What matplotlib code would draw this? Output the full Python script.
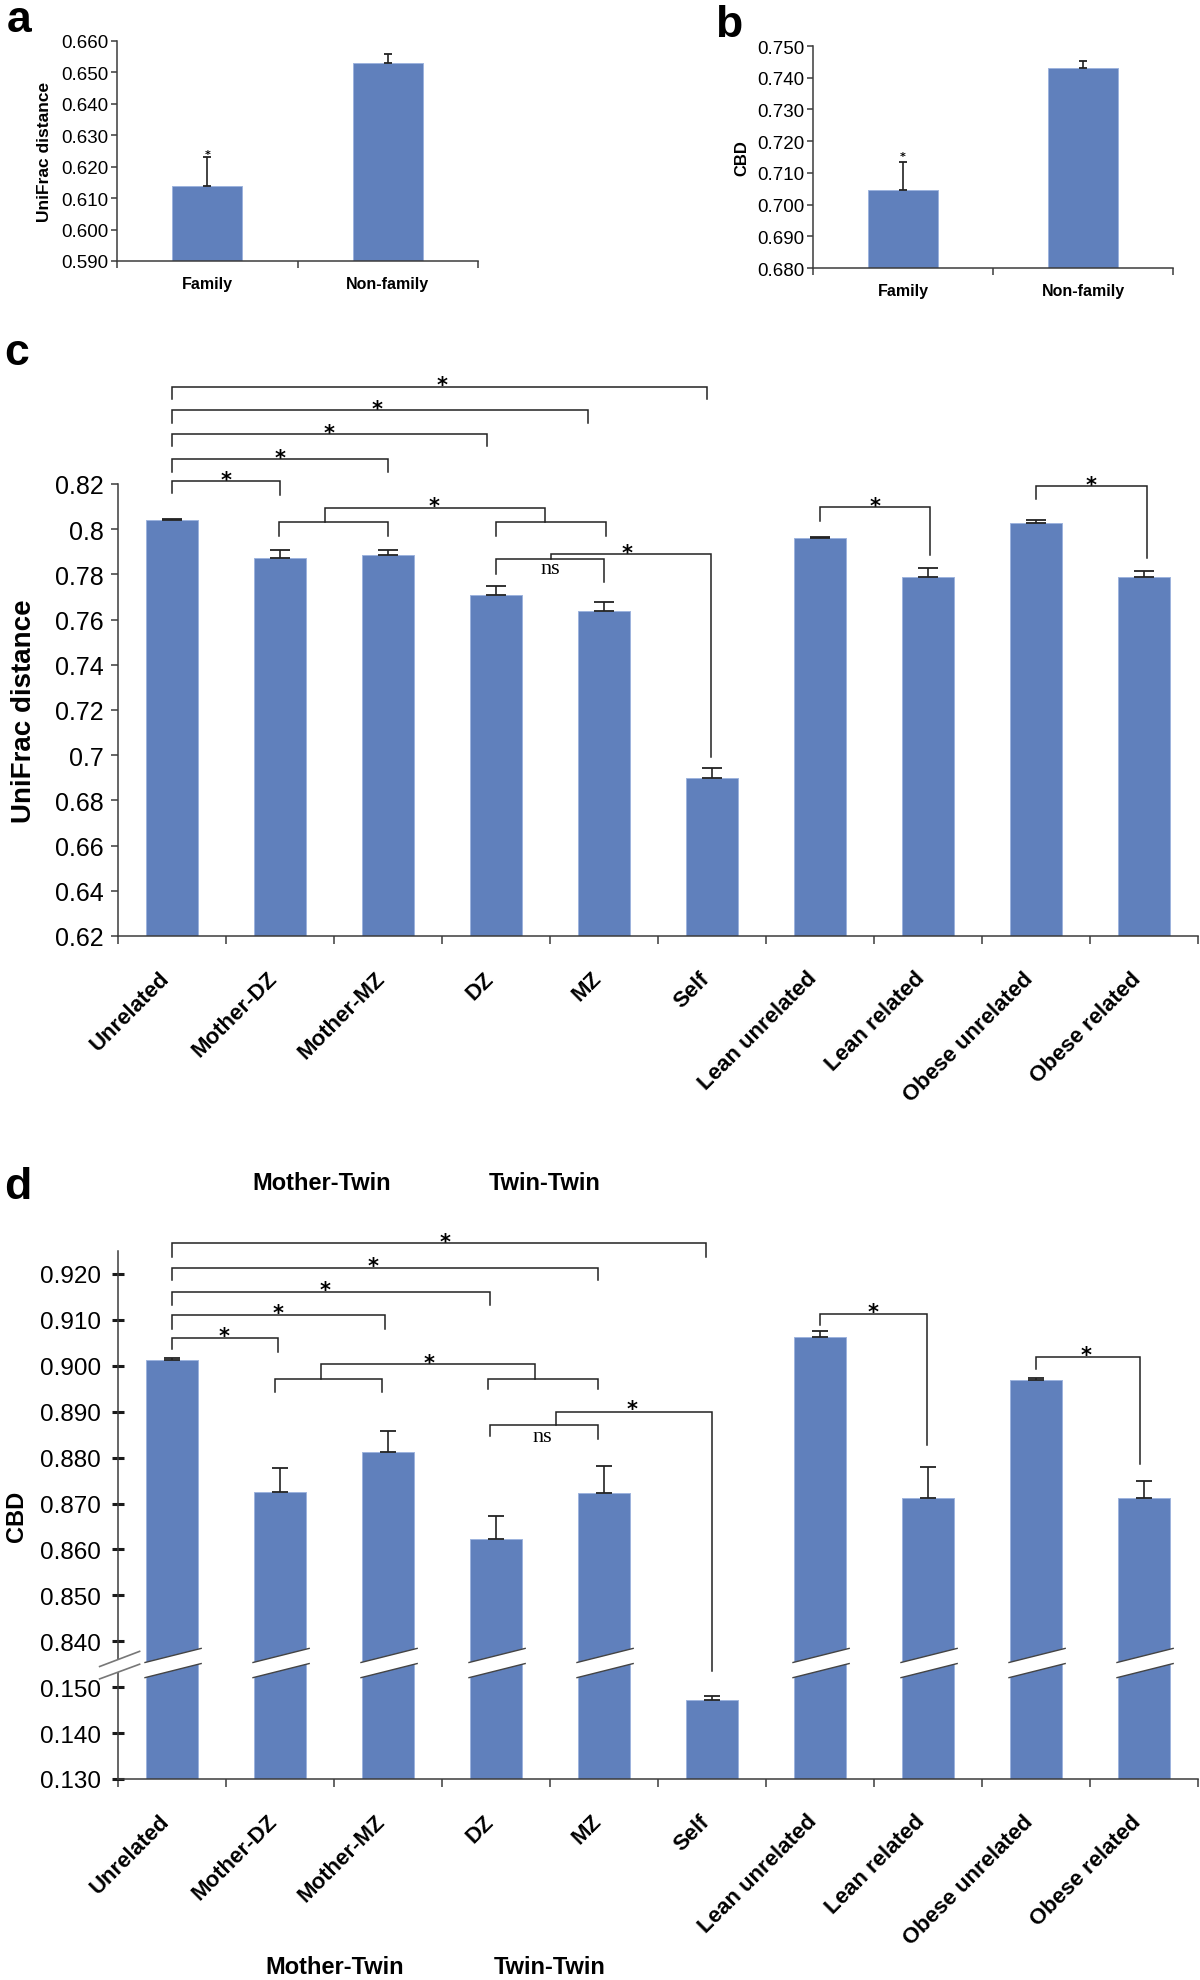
import numpy as np
import matplotlib
matplotlib.use('Agg')
import matplotlib.pyplot as plt
from matplotlib.patches import Polygon
from matplotlib.transforms import offset_copy, ScaledTranslation

plt.rcParams['font.family'] = ['Liberation Sans', 'DejaVu Sans']

W, H = 1200, 1981
BLUE = '#6080BC'
EDGE = '#9DB3DD'
INK = '#222222'
AXC = '#3c3c3c'

#==============================================================================
# data
ab_cats = ['Family', 'Non-family']
a_vals = [0.614, 0.653]
a_err = [0.009, 0.003]
b_vals = [0.7045, 0.7432]
b_err = [0.009, 0.0022]

cd_cats = ['Unrelated', 'Mother-DZ', 'Mother-MZ', 'DZ', 'MZ', 'Self',
           'Lean unrelated', 'Lean related', 'Obese unrelated', 'Obese related']
c_vals = [0.804, 0.7874, 0.7887, 0.7710, 0.7638, 0.690, 0.796, 0.7789, 0.8026, 0.7789]
c_err = [0.0006, 0.0034, 0.0020, 0.0039, 0.0040, 0.0045, 0.0006, 0.0041, 0.0013, 0.0028]
d_vals = [0.9013, 0.8726, 0.8813, 0.8622, 0.8723, 0.1471, 0.9063, 0.8713, 0.8968, 0.8713]
d_err = [0.0003, 0.0052, 0.0044, 0.0050, 0.0059, 0.0009, 0.0012, 0.0066, 0.0006, 0.0037]

d_upper_ticks = [0.840, 0.850, 0.860, 0.870, 0.880, 0.890, 0.900, 0.910, 0.920]
d_lower_ticks = [0.130, 0.140, 0.150]
BREAK_SHIFT = 0.68   # lower segment is drawn shifted up under the break

# significance brackets: (x1, x2, y_bar, y_leg1, y_leg2)
c_brackets = [(0, 1.0, 0.8215, 0.816, 0.8153), (0, 2.0, 0.831, 0.8254, 0.8254),
              (0, 2.92, 0.842, 0.8366, 0.8366), (0, 3.85, 0.8528, 0.8472, 0.8472),
              (0, 4.95, 0.8631, 0.8578, 0.8578),
              (0.99, 2.0, 0.8031, 0.797, 0.797), (3.0, 4.02, 0.8031, 0.797, 0.797),
              (1.42, 3.45, 0.8094, 0.8031, 0.8031),
              (3.0, 4.0, 0.7866, 0.7803, 0.7766), (3.51, 4.99, 0.7891, 0.7866, 0.699),
              (6.0, 7.02, 0.8097, 0.8038, 0.7887), (8.0, 9.03, 0.8193, 0.8134, 0.7872)]
c_stars = [(0.5, 0.8244), (1.0, 0.8343), (1.45, 0.845), (1.9, 0.8557), (2.5, 0.8663),
           (2.43, 0.8127), (4.21, 0.792), (6.51, 0.8131), (8.51, 0.8222)]
c_ns = (3.5, 0.7825)

d_brackets = [(0, 0.98, 0.9061, 0.9036, 0.903), (0, 1.97, 0.911, 0.9081, 0.9081),
              (0, 2.94, 0.916, 0.9133, 0.9133), (0, 3.94, 0.9214, 0.9186, 0.9186),
              (0, 4.94, 0.9267, 0.9238, 0.9238),
              (0.95, 1.94, 0.8971, 0.8943, 0.8943), (2.93, 3.94, 0.8971, 0.8949, 0.8949),
              (1.38, 3.36, 0.9003, 0.8971, 0.8971),
              (2.94, 3.94, 0.8871, 0.8846, 0.884), (3.56, 5.0, 0.890, 0.8871, 0.1535),
              (6.0, 6.99, 0.9113, 0.9088, 0.8828), (8.0, 8.96, 0.9019, 0.8992, 0.8786)]
d_stars = [(0.48, 0.9079), (0.98, 0.9128), (1.42, 0.9178), (1.86, 0.923), (2.53, 0.9282),
           (2.38, 0.902), (4.26, 0.8919), (6.49, 0.913), (8.46, 0.9036)]
d_ns = (3.43, 0.8847)
#==============================================================================


def dpos(v):
    v = np.asarray(v, dtype=float)
    return np.where(v < 0.5, v + BREAK_SHIFT, v)


fig = plt.figure(figsize=(W / 100, H / 100), dpi=100)


def add_axes_px(l, r, t, b):
    return fig.add_axes([l / W, 1 - b / H, (r - l) / W, (b - t) / H])


def base_style(ax, n):
    ax.spines['top'].set_visible(False)
    ax.spines['right'].set_visible(False)
    for s in ('left', 'bottom'):
        ax.spines[s].set_color(AXC)
        ax.spines[s].set_linewidth(1.1)
    ax.set_xlim(-0.5, n - 0.5)
    ax.set_xticks(np.arange(-0.5, n, 1.0))
    ax.set_xticklabels([])
    ax.tick_params(axis='x', which='major', direction='out', length=5, width=1.1, color=AXC)


def draw_bars(ax, x, tops, bottom, err, width, capsize):
    tops = np.asarray(tops)
    ax.bar(x, tops - bottom, width=width, bottom=bottom, color=BLUE,
           edgecolor=EDGE, linewidth=0.7, zorder=2)
    ax.errorbar(x, tops, yerr=[np.zeros(len(err)), err], fmt='none', ecolor=INK,
                elinewidth=1.2, capsize=capsize, capthick=1.3, zorder=4)


def bracket(ax, x1, x2, y, y1, y2):
    ax.plot([x1, x1, x2, x2], [y1, y, y, y2], color=INK, lw=1.1, clip_on=False,
            solid_joinstyle='miter', zorder=5)


def star(ax, x, y, size=15, dy=-6):
    tr = offset_copy(ax.transData, fig=fig, x=0, y=dy, units='dots')
    ax.text(x, y, '*', transform=tr, ha='center', va='center', fontsize=size,
            fontweight='bold', family='DejaVu Sans', color='black', clip_on=False)


def cat_labels(ax, cats, size, pad, dx, rot=0):
    ax.set_xticks(np.arange(len(cats)), minor=True)
    ax.set_xticklabels(cats, minor=True, fontsize=size, fontweight='bold')
    ax.tick_params(axis='x', which='minor', length=0, pad=pad)
    if rot:
        for lab in ax.get_xticklabels(minor=True):
            lab.set_rotation(rot)
            lab.set_ha('right')
            lab.set_va('center')
            lab.set_rotation_mode('anchor')
            lab.set_transform(lab.get_transform() + ScaledTranslation(dx / 100, 0, fig.dpi_scale_trans))


# ---------------- panel a ----------------
ax = add_axes_px(117, 478, 42, 262)
base_style(ax, 2)
ax.set_ylim(0.590, 0.660)
draw_bars(ax, np.arange(2), a_vals, 0.590, a_err, 0.39, 3)
yt = np.arange(0.590, 0.6601, 0.010)
ax.set_yticks(yt)
ax.set_yticklabels(['%.3f' % v for v in yt], fontsize=13.5)
ax.tick_params(axis='y', direction='out', length=4, width=1.1, color=AXC, pad=2)
cat_labels(ax, ab_cats, 11.5, 11, 0)
ax.set_ylabel('UniFrac distance', fontsize=12.5, fontweight='bold')
ax.yaxis.set_label_coords(-0.18, 0.5)
star(ax, 0, 0.625, size=8, dy=-3)

# ---------------- panel b ----------------
ax = add_axes_px(813, 1173, 47, 269)
base_style(ax, 2)
ax.set_ylim(0.680, 0.750)
draw_bars(ax, np.arange(2), b_vals, 0.680, b_err, 0.39, 3)
yt = np.arange(0.680, 0.7501, 0.010)
ax.set_yticks(yt)
ax.set_yticklabels(['%.3f' % v for v in yt], fontsize=13.5)
ax.tick_params(axis='y', direction='out', length=4, width=1.1, color=AXC, pad=2)
cat_labels(ax, ab_cats, 11.5, 11, 0)
ax.set_ylabel('CBD', fontsize=12, fontweight='bold')
ax.yaxis.set_label_coords(-0.178, 0.5)
star(ax, 0, 0.7163, size=8, dy=-3)

# ---------------- panel c ----------------
ax = add_axes_px(118, 1198, 485, 937)
base_style(ax, len(cd_cats))
ax.set_ylim(0.62, 0.82)
x = np.arange(len(cd_cats))
draw_bars(ax, x, c_vals, 0.62, c_err, 0.49, 7)
yt = np.round(np.arange(0.62, 0.8201, 0.02), 2)
ax.set_yticks(yt)
ax.set_yticklabels(['%g' % v for v in yt], fontsize=18)
ax.tick_params(axis='y', direction='out', length=5, width=1.1, color=AXC, pad=5)
ax.tick_params(axis='x', which='major', length=6)
cat_labels(ax, cd_cats, 16, 28, -6, rot=45)
ax.set_ylabel('UniFrac distance', fontsize=20, fontweight='bold')
ax.yaxis.set_label_coords(-0.075, 0.5)
for b in c_brackets:
    bracket(ax, *b)
for s in c_stars:
    star(ax, *s)
ax.text(c_ns[0], c_ns[1], 'ns', ha='center', va='center', fontsize=16,
        family=['Liberation Serif', 'DejaVu Serif'])

# ---------------- panel d ----------------
ax = add_axes_px(118, 1198, 1252, 1780)
base_style(ax, len(cd_cats))
ybot = dpos(d_lower_ticks[0])
ax.set_ylim(ybot, 0.925)
draw_bars(ax, x, dpos(d_vals), ybot, d_err, 0.49, 6)
ticks = list(d_lower_ticks) + list(d_upper_ticks)
ax.set_yticks(dpos(ticks))
ax.set_yticklabels(['%.3f' % v for v in ticks], fontsize=17.5)
ax.tick_params(axis='y', direction='inout', length=9, width=2.2, color='#1a1a1a', pad=8)
ax.tick_params(axis='x', which='major', length=6)
cat_labels(ax, cd_cats, 16, 28, -6, rot=45)
ax.set_ylabel('CBD', fontsize=17, fontweight='bold')
ax.yaxis.set_label_coords(-0.083, 0.5)

# broken-axis bands across the tall bars
yc, slope, half, hw = 0.8352, 0.0059, 0.00165, 0.255
for xc, v in zip(x, d_vals):
    if v < 0.5:
        continue
    xl, xr = xc - 0.25, xc + hw + 0.015
    yl, yr = yc + slope * (xl - xc), yc + slope * (xr - xc)
    ax.add_patch(Polygon([(xl, yl - half), (xr, yr - half), (xr, yr + half), (xl, yl + half)],
                         closed=True, facecolor='white', edgecolor='none', zorder=3))
    ax.plot([xl, xr], [yl + half, yr + half], color='#444444', lw=1.0, zorder=3.5)
    ax.plot([xl, xr], [yl - half, yr - half], color='#444444', lw=1.0, zorder=3.5)
# break marks on the y axis
ax.add_patch(Polygon([(-0.67, 0.8318), (-0.30, 0.8350), (-0.30, 0.8378), (-0.67, 0.8345)],
                     closed=True, facecolor='white', edgecolor='none', zorder=3, clip_on=False))
ax.plot([-0.67, -0.30], [0.8345, 0.8378], color='#777777', lw=1.2, clip_on=False, zorder=3.5)
ax.plot([-0.67, -0.30], [0.8318, 0.8350], color='#777777', lw=1.2, clip_on=False, zorder=3.5)

for b in d_brackets:
    x1, x2, yb, y1, y2 = b
    bracket(ax, x1, x2, yb, float(dpos(y1)), float(dpos(y2)))
for s in d_stars:
    star(ax, *s)
ax.text(d_ns[0], d_ns[1], 'ns', ha='center', va='center', fontsize=16,
        family=['Liberation Serif', 'DejaVu Serif'])

# group captions of panel d
for txt, cx, cy in [('Mother-Twin', 322, 1184), ('Twin-Twin', 545, 1184),
                    ('Mother-Twin', 335, 1968), ('Twin-Twin', 550, 1968)]:
    fig.text(cx / W, 1 - cy / H, txt, ha='center', va='center', fontsize=17, fontweight='bold')

# panel letters
for txt, px, py in [('a', 7, 32), ('b', 715, 37), ('c', 4, 365), ('d', 4, 1199)]:
    fig.text(px / W, 1 - py / H, txt, ha='left', va='baseline', fontsize=32, fontweight='bold')

fig.savefig('out.png', dpi=100)
